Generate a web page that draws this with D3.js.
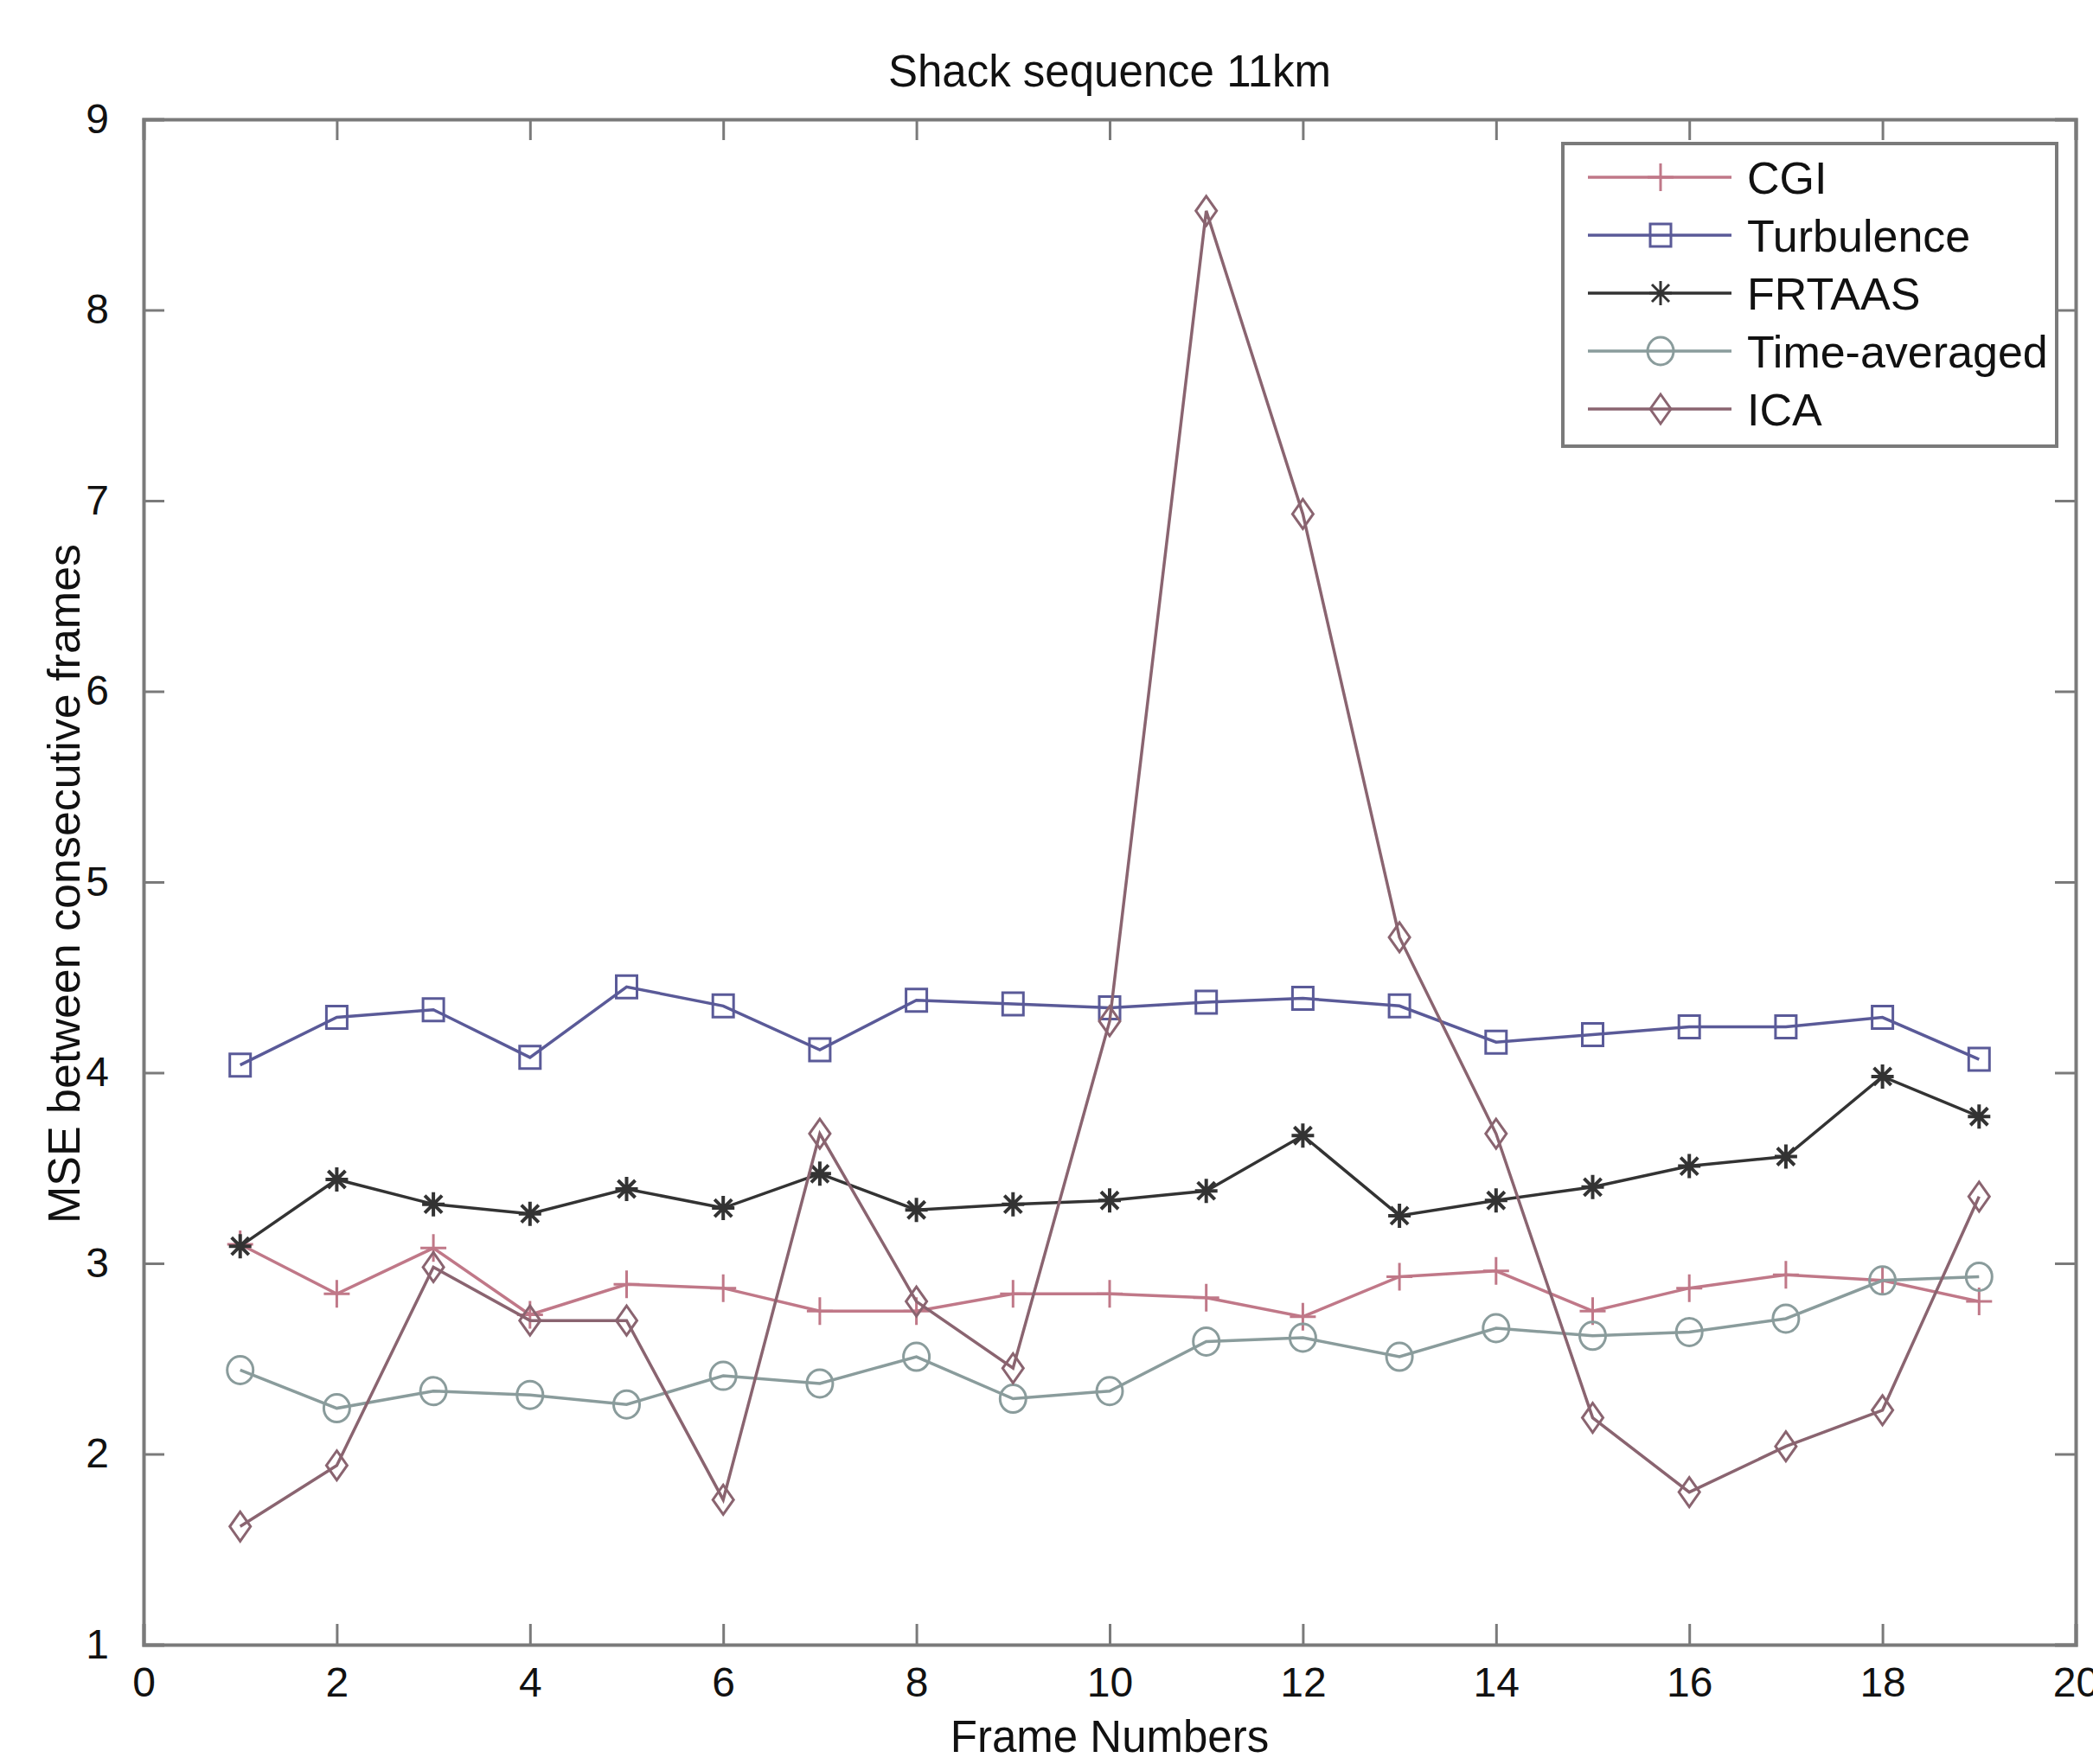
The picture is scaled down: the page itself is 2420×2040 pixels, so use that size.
<!DOCTYPE html>
<html>
<head>
<meta charset="utf-8">
<script src="https://cdn.jsdelivr.net/npm/d3@7"></script>
<style>
  html, body { margin: 0; padding: 0; background: #fff; }
  text { font-family: "Liberation Sans", Arial, sans-serif; fill: #111; }
</style>
</head>
<body>
<svg id="chart" width="2420" height="2040"></svg>
<script>
const frames = d3.range(1, 20);
const cgi = [3.10, 2.84, 3.08, 2.73, 2.89, 2.87, 2.75, 2.75, 2.84, 2.84, 2.82, 2.72, 2.93, 2.96, 2.75, 2.87, 2.94, 2.91, 2.80];
const turbulence = [4.04, 4.29, 4.33, 4.08, 4.45, 4.35, 4.12, 4.38, 4.36, 4.34, 4.37, 4.39, 4.35, 4.16, 4.20, 4.24, 4.24, 4.29, 4.07];
const frtaas = [3.09, 3.44, 3.31, 3.26, 3.39, 3.29, 3.47, 3.28, 3.31, 3.33, 3.38, 3.67, 3.25, 3.33, 3.40, 3.51, 3.56, 3.98, 3.77];
const timeAveraged = [2.44, 2.24, 2.33, 2.31, 2.26, 2.41, 2.37, 2.51, 2.29, 2.33, 2.59, 2.61, 2.51, 2.66, 2.62, 2.64, 2.71, 2.91, 2.93];
const ica = [1.62, 1.94, 2.98, 2.70, 2.70, 1.76, 3.68, 2.80, 2.45, 4.27, 8.52, 6.93, 4.71, 3.68, 2.19, 1.80, 2.04, 2.23, 3.35];

const xTicks = d3.range(0, 21, 2);
const yTicks = d3.range(1, 10);

const series = [
  { name: "CGI", values: cgi, color: "#c07888", marker: "plus" },
  { name: "Turbulence", values: turbulence, color: "#5a5a98", marker: "square" },
  { name: "FRTAAS", values: frtaas, color: "#333333", marker: "star" },
  { name: "Time-averaged", values: timeAveraged, color: "#8a9c9c", marker: "circle" },
  { name: "ICA", values: ica, color: "#8a6470", marker: "diamond" }
];

const svg = d3.select("#chart");
const plotLeft = 166, plotRight = 2400, plotTop = 138, plotBottom = 1902;

const x = d3.scaleLinear().domain([0, 20]).range([plotLeft, plotRight]);
const y = d3.scaleLinear().domain([1, 9]).range([plotBottom, plotTop]);

const axisColor = "#7a7a7a";
const tickLen = 24;

// ticks on all four sides, pointing in
const axes = svg.append("g").attr("class", "axes");
axes.append("g")
  .attr("transform", `translate(0,${plotBottom})`)
  .call(d3.axisBottom(x).tickValues(xTicks).tickSize(-tickLen).tickPadding(tickLen + 2).tickFormat(d3.format("d")));
axes.append("g")
  .attr("transform", `translate(0,${plotTop})`)
  .call(d3.axisTop(x).tickValues(xTicks).tickSize(-tickLen).tickFormat(""));
axes.append("g")
  .attr("transform", `translate(${plotLeft},0)`)
  .call(d3.axisLeft(y).tickValues(yTicks).tickSize(-tickLen).tickPadding(tickLen + 16).tickFormat(d3.format("d")));
axes.append("g")
  .attr("transform", `translate(${plotRight},0)`)
  .call(d3.axisRight(y).tickValues(yTicks).tickSize(-tickLen).tickFormat(""));

axes.selectAll(".domain").attr("stroke", axisColor).attr("stroke-width", 4);
axes.selectAll(".tick line").attr("stroke", axisColor).attr("stroke-width", 3);
axes.selectAll(".tick text")
  .attr("font-size", 48)
  .attr("fill", "#111")
  .attr("font-family", "Liberation Sans, Arial, sans-serif");

// marker shapes
function markerPath(type) {
  switch (type) {
    case "plus": return "M-15,0H15M0,-16V16";
    case "square": return "M-12,-13H12V13H-12Z";
    case "star": return "M-13,0H13M0,-14V14M-10,-10L10,10M-10,10L10,-10";
    case "circle": return "M-15,0A15,16 0 1,0 15,0A15,16 0 1,0 -15,0Z";
    case "diamond": return "M0,-17L12,0L0,17L-12,0Z";
  }
}

const line = d3.line()
  .x((d, i) => x(frames[i]))
  .y(d => y(d));

const plot = svg.append("g").attr("class", "plot");
series.forEach(s => {
  const g = plot.append("g");
  g.append("path")
    .attr("d", line(s.values))
    .attr("fill", "none")
    .attr("stroke", s.color)
    .attr("stroke-width", 3.5);
  g.selectAll("path.mk")
    .data(s.values)
    .join("path")
    .attr("class", "mk")
    .attr("transform", (d, i) => `translate(${x(frames[i])},${y(d)})`)
    .attr("d", markerPath(s.marker))
    .attr("fill", "none")
    .attr("stroke", s.color)
    .attr("stroke-width", s.marker === "star" ? 4 : 3);
});

// legend
const lg = svg.append("g").attr("class", "legend");
lg.append("rect")
  .attr("x", 1807).attr("y", 166)
  .attr("width", 571).attr("height", 350)
  .attr("fill", "#fff")
  .attr("stroke", axisColor)
  .attr("stroke-width", 4);

const rowY = d3.scalePoint().domain(series.map(s => s.name)).range([205, 473]);
const rows = lg.selectAll("g.row")
  .data(series)
  .join("g")
  .attr("class", "row")
  .attr("transform", d => `translate(0,${rowY(d.name)})`);

rows.append("line")
  .attr("x1", 1836).attr("x2", 2002)
  .attr("stroke", d => d.color)
  .attr("stroke-width", 3.5);
rows.append("path")
  .attr("transform", "translate(1920,0)")
  .attr("d", d => markerPath(d.marker))
  .attr("fill", "none")
  .attr("stroke", d => d.color)
  .attr("stroke-width", 3);
rows.append("text")
  .attr("x", 2020)
  .attr("dy", "0.36em")
  .attr("font-size", 52)
  .text(d => d.name);

// title and axis labels
svg.append("text")
  .attr("x", (plotLeft + plotRight) / 2)
  .attr("y", 100)
  .attr("text-anchor", "middle")
  .attr("font-size", 51)
  .text("Shack sequence 11km");

svg.append("text")
  .attr("x", (plotLeft + plotRight) / 2)
  .attr("y", 2026)
  .attr("text-anchor", "middle")
  .attr("font-size", 51)
  .text("Frame Numbers");

svg.append("text")
  .attr("transform", `translate(92,${(plotTop + plotBottom) / 2 + 2}) rotate(-90)`)
  .attr("text-anchor", "middle")
  .attr("font-size", 52)
  .text("MSE between consecutive frames");
</script>
</body>
</html>
